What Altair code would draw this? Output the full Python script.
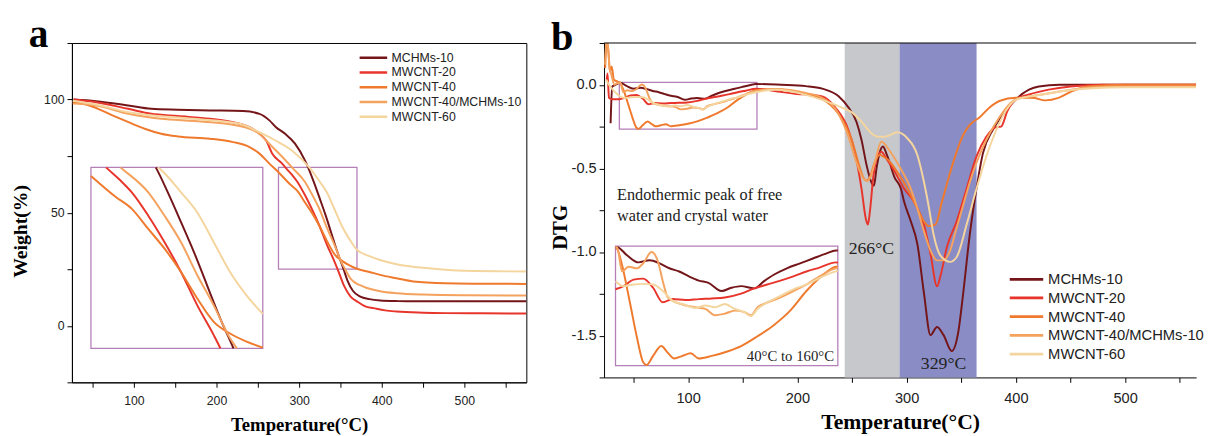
import altair as alt
import pandas as pd

SERIES = ["MCHMs-10", "MWCNT-20", "MWCNT-40", "MWCNT-40/MCHMs-10", "MWCNT-60"]
COLORS = ["#741519", "#E8352B", "#EF7A2E", "#F4A25E", "#F4D59E"]
BOX_COLOR = "#B47FB7"
SERIF = "Liberation Serif"
SANS = "Liberation Sans"

# ---------------- panel a : TGA (Weight %) ----------------
tga_mchms_x = [27, 54, 93, 121, 153, 192, 232, 252, 264, 272, 283, 295, 307, 311.2, 317.5, 324.8, 332, 339.2, 346.5, 353.7, 358.5, 365, 374, 385, 398, 420, 440, 480, 520, 575]
tga_mchms_y = [100, 99.3, 97.4, 95.9, 95.5, 95.2, 94.9, 93.7, 90.8, 87.8, 84.9, 80.5, 73.1, 69.7, 63.8, 56.4, 48.9, 40.7, 32.4, 25.1, 20.0, 15.5, 12.9, 11.8, 11.2, 10.9, 10.8, 10.8, 10.8, 10.8]
tga_m20_x = [27, 54, 93, 121, 153, 192, 220, 240, 252, 260, 267.5, 279.4, 284.1, 291.2, 297.6, 306.7, 315.7, 324.8, 333.8, 342.9, 346.5, 354.6, 362, 370.4, 380, 390.2, 404, 418, 450, 477, 520, 575]
tga_m20_y = [100, 98.8, 95.9, 93.7, 92.7, 91.5, 90, 87.8, 84.9, 81.9, 76.1, 71.7, 69.7, 66.8, 63.8, 58, 51.4, 44, 35.7, 28.3, 25.1, 17.5, 13, 10.7, 8.6, 7.8, 6.8, 6.3, 5.8, 5.6, 5.5, 5.4]
tga_m40_x = [26, 46, 74, 93.5, 113, 133, 153, 192, 220, 240, 252, 264, 275, 288.6, 297.6, 306.7, 315.7, 324.8, 333.8, 342.9, 351.9, 361, 370, 385, 398, 418, 438, 477, 520, 575]
tga_m40_y = [98.8, 97.4, 93, 90, 87.1, 84.9, 83.7, 82.7, 81.2, 79, 76.1, 71.7, 67.9, 62.7, 59.7, 54.7, 49.8, 44, 37.4, 31.6, 28.7, 26.7, 25.2, 23.8, 22.5, 21, 19.6, 18.8, 18.6, 18.5]
tga_m40m_x = [26, 54, 93.5, 133, 172.5, 212, 240, 252, 265, 280, 292.2, 306.7, 315.7, 324.8, 333.8, 342.9, 351.9, 355.5, 362, 378, 398, 418, 450, 500, 575]
tga_m40m_y = [98.2, 97.4, 93.7, 91.5, 90.5, 89.3, 87.1, 84.9, 80, 74.5, 69.7, 63.8, 58, 51.4, 43.2, 35.7, 27.5, 25.1, 21, 17.3, 15.3, 14.4, 13.8, 13.5, 13.4]
tga_m60_x = [26, 54, 93.5, 172.5, 228, 251.7, 271.5, 291.2, 313, 324.8, 333.8, 342.9, 351.9, 361, 370, 385, 398, 418, 457, 500, 575]
tga_m60_y = [99.5, 97.8, 94.4, 91.5, 89.3, 85.6, 81.9, 77.5, 69.7, 63.8, 58.8, 51.4, 44, 38.2, 33.6, 30.8, 29.1, 27.2, 25.4, 24.3, 24]

# magnifier: source window -> inset box (x0, x1, y0, y1)
tga_zoom_src = [275, 370, 25, 70]
tga_zoom_dst = [48, 256, -10, 70]

# ---------------- panel b : DTG ----------------
dtg_mchms_x = [29, 30.5, 33.5, 37.9, 43.5, 50, 56.4, 62, 67.5, 73.1, 78.6, 84.2, 89.7, 97.1, 102.7, 108.2, 115.6, 121.2, 126.7, 134.1, 141.6, 148.9, 156.3, 161.9, 185, 207.7, 222.7, 237.7, 246.8, 254.2, 258.7, 263.5, 267.7, 270.1, 272.3, 275.2, 278.3, 281.3, 284.2, 288.7, 294.8, 297.7, 303.8, 309.8, 315.8, 321.8, 327.8, 333.8, 341.3, 347.3, 351.8, 357.8, 363.9, 369.8, 378.8, 387.8, 400, 412, 421, 440, 480, 520, 565]
dtg_mchms_y = [-0.23, -0.01, 0.0, 0.0127, -0.0063, -0.023, -0.0178, -0.0253, -0.0367, -0.0444, -0.0558, -0.0656, -0.071, -0.09, -0.0824, -0.0786, -0.0839, -0.067, -0.052, -0.0368, -0.0253, -0.0139, -0.0025, 0.005, 0.0, -0.008, -0.023, -0.068, -0.136, -0.224, -0.33, -0.486, -0.583, -0.603, -0.505, -0.408, -0.369, -0.408, -0.46, -0.55, -0.622, -0.70, -0.816, -0.952, -1.244, -1.497, -1.448, -1.497, -1.592, -1.477, -1.244, -0.894, -0.622, -0.41, -0.27, -0.18, -0.087, -0.029, -0.01, 0.0, 0.0, 0.0, 0.0]
dtg_m20_x = [25.5, 26.2, 27.5, 30.5, 37, 41.6, 47.2, 52.7, 58.3, 63.8, 69.4, 76.8, 84.2, 91.6, 99, 108.2, 115.6, 123, 130.5, 137.8, 145.2, 152.6, 161.9, 182, 200, 212, 222.7, 234.7, 246.8, 252.8, 258.7, 262.6, 264.5, 266.5, 269.3, 273.8, 276.8, 281.3, 288.7, 297.7, 306.8, 315.8, 321.8, 327.8, 330.8, 336.8, 345.8, 354.9, 363.9, 372.9, 378, 382, 386.4, 392.3, 400, 412, 430, 450, 480, 565]
dtg_m20_y = [0.03, 0.068, -0.078, -0.087, -0.086, -0.0786, -0.0634, -0.061, -0.0824, -0.1166, -0.109, -0.1113, -0.109, -0.1075, -0.1052, -0.0961, -0.0839, -0.0748, -0.0657, -0.0558, -0.0444, -0.0353, -0.023, -0.04, -0.055, -0.06, -0.07, -0.136, -0.272, -0.408, -0.622, -0.80, -0.836, -0.75, -0.56, -0.418, -0.40, -0.44, -0.515, -0.622, -0.70, -0.836, -1.01, -1.205, -1.147, -0.972, -0.816, -0.622, -0.428, -0.311, -0.27, -0.253, -0.25, -0.155, -0.087, -0.058, -0.029, -0.01, 0.0, 0.0]
dtg_m40_x = [24, 25.5, 27, 28.4, 30, 32, 35, 37.9, 40.7, 45.3, 49, 52.7, 54.6, 58.3, 62.9, 66.6, 70.3, 74.9, 79.6, 84.2, 91.6, 100.8, 108.2, 117.5, 126.7, 136, 145.2, 152.6, 161.9, 180, 200, 222.7, 237.7, 249.8, 255.8, 260.3, 263.3, 266.2, 270.7, 275.2, 278.3, 282.7, 291.8, 300.8, 309.8, 315.8, 320.3, 326.3, 332.3, 339.8, 345.8, 351, 357.8, 366.9, 375.9, 384.9, 400, 415, 427, 439, 451, 466, 500, 565]
dtg_m40_y = [0.1, 0.27, 0.2, 0.078, 0.11, 0.03, 0.02, 0.009, -0.029, -0.12, -0.196, -0.257, -0.2635, -0.242, -0.219, -0.2345, -0.248, -0.242, -0.236, -0.248, -0.242, -0.231, -0.219, -0.196, -0.17, -0.136, -0.09, -0.0596, -0.033, -0.025, -0.045, -0.085, -0.175, -0.33, -0.466, -0.554, -0.573, -0.554, -0.466, -0.418, -0.428, -0.447, -0.525, -0.622, -0.739, -0.816, -0.845, -0.836, -0.70, -0.525, -0.40, -0.31, -0.24, -0.194, -0.136, -0.097, -0.078, -0.078, -0.093, -0.078, -0.039, -0.01, 0.0, 0.0]
dtg_m40m_x = [24, 25, 27, 28.1, 29.8, 32.5, 35, 37.9, 40.7, 44.4, 49, 52.7, 57.4, 61.1, 63.8, 66.6, 71.3, 76.8, 82.3, 87.9, 93.4, 99, 104.5, 110.1, 113.7, 117.5, 123, 130.5, 137.8, 145.2, 152.6, 161.9, 180, 207.7, 222.7, 237.7, 246.8, 254.2, 260.5, 264, 267, 270.8, 276.8, 285.8, 294.8, 303.8, 309.8, 315.8, 321.8, 327.8, 333.8, 339.8, 345.8, 351.8, 357.8, 363.9, 372.9, 384.9, 393.9, 400, 424, 445, 470, 500, 565]
dtg_m40m_y = [0.12, 0.27, 0.2, 0.097, 0.058, 0.0, 0.01, 0.0127, -0.044, -0.033, -0.037, -0.025, 0.0013, -0.0215, -0.067, -0.105, -0.1166, -0.124, -0.128, -0.132, -0.147, -0.143, -0.136, -0.1395, -0.147, -0.128, -0.117, -0.105, -0.09, -0.075, -0.0558, -0.037, -0.025, -0.049, -0.078, -0.175, -0.311, -0.466, -0.56, -0.575, -0.55, -0.466, -0.34, -0.408, -0.505, -0.622, -0.739, -0.875, -0.991, -1.05, -1.05, -0.991, -0.855, -0.719, -0.583, -0.466, -0.33, -0.194, -0.117, -0.087, -0.058, -0.035, -0.015, -0.01, -0.01]
dtg_m60_x = [25, 27.5, 32.5, 37, 41.6, 47.2, 52.7, 58.3, 63.8, 69.4, 74.9, 82.3, 87.9, 93.4, 99, 104.5, 110.1, 113.7, 117.5, 123, 130.5, 137.8, 145.2, 152.6, 161.9, 180, 207.7, 222.7, 240.7, 249.8, 258.7, 267.7, 273.8, 279.7, 291.7, 300.8, 309.8, 315.8, 320, 324.8, 330.8, 339.8, 345.8, 354.9, 363.9, 372.9, 381.9, 390.8, 400, 424, 445, 470, 500, 565]
dtg_m60_y = [0.03, 0.0, -0.039, -0.067, -0.0786, -0.075, -0.0733, -0.075, -0.09, -0.113, -0.1205, -0.1296, -0.124, -0.128, -0.1205, -0.132, -0.1395, -0.149, -0.132, -0.117, -0.1015, -0.086, -0.075, -0.0596, -0.044, -0.03, -0.06, -0.09, -0.136, -0.165, -0.22, -0.29, -0.311, -0.311, -0.284, -0.321, -0.42, -0.58, -0.72, -0.9, -1.02, -1.059, -1.03, -0.836, -0.622, -0.428, -0.272, -0.155, -0.09, -0.058, -0.035, -0.02, -0.015, -0.015]

dtg_zoom_src = [37, 163, -0.265, 0.015]
dtg_zoom_dst = [33.5, 237, -1.68, -0.965]

band_x0 = [243.3, 293.5]
band_x1 = [293.5, 364.0]
band_fill = ["#C6C8CC", "#8A8DC5"]

ann_left_text = ["Endothermic peak of free", "water and crystal water"]
ann_left_x = [34.9, 34.9]
ann_left_y = [-0.661, -0.787]
ann_peak_text = ["266°C", "329°C"]
ann_peak_x = [267.7, 333.8]
ann_peak_y = [-0.985, -1.672]
ann_range_text = ["40°C to 160°C"]
ann_range_x = [233.5]
ann_range_y = [-1.625]


# ---------------- helpers ----------------
def clip_segment(p0, p1, box):
    x0, y0 = p0
    x1, y1 = p1
    xmin, xmax, ymin, ymax = box
    dx, dy = x1 - x0, y1 - y0
    t0, t1 = 0.0, 1.0
    for p, q in ((-dx, x0 - xmin), (dx, xmax - x0), (-dy, y0 - ymin), (dy, ymax - y0)):
        if p == 0:
            if q < 0:
                return None
        else:
            t = q / p
            if p < 0:
                if t > t1:
                    return None
                t0 = max(t0, t)
            else:
                if t < t0:
                    return None
                t1 = min(t1, t)
    return (x0 + t0 * dx, y0 + t0 * dy), (x0 + t1 * dx, y0 + t1 * dy), t1 < 1.0


def magnify(name, xs, ys, src, dst):
    pieces, cur = [], []
    for i in range(len(xs) - 1):
        r = clip_segment((xs[i], ys[i]), (xs[i + 1], ys[i + 1]), src)
        if r is None:
            if cur:
                pieces.append(cur)
                cur = []
            continue
        a, b, cut = r
        if not cur:
            cur.append(a)
        cur.append(b)
        if cut:
            pieces.append(cur)
            cur = []
    if cur:
        pieces.append(cur)
    rows = []
    sx0, sx1, sy0, sy1 = src
    dx0, dx1, dy0, dy1 = dst
    for k, pc in enumerate(pieces):
        for j, (x, y) in enumerate(pc):
            rows.append({
                "series": name, "piece": f"{name}#{k}", "idx": j,
                "x": dx0 + (x - sx0) / (sx1 - sx0) * (dx1 - dx0),
                "y": dy0 + (y - sy0) / (sy1 - sy0) * (dy1 - dy0),
            })
    return rows


def frame(names, xs_list, ys_list):
    rows = []
    for n, xs, ys in zip(names, xs_list, ys_list):
        for j, (x, y) in enumerate(zip(xs, ys)):
            rows.append({"series": n, "idx": j, "x": x, "y": y})
    return pd.DataFrame(rows)


def common_axis(label_size, title_size, title_pad, label_pad=3):
    return dict(grid=False, domainColor="black", domainWidth=1, tickColor="black",
                tickWidth=1, tickSize=5, labelFont=SANS, labelFontSize=label_size,
                labelColor="#222222", labelPadding=label_pad, titleFont=SERIF,
                titleFontWeight="bold", titleFontSize=title_size, titleColor="black",
                titlePadding=title_pad, labelFlush=False, labelOverlap=False)


color_scale = alt.Scale(domain=SERIES, range=COLORS)

# ---------------- panel a ----------------
tga_x = [tga_mchms_x, tga_m20_x, tga_m40_x, tga_m40m_x, tga_m60_x]
tga_y = [tga_mchms_y, tga_m20_y, tga_m40_y, tga_m40m_y, tga_m60_y]
tga_df = frame(SERIES, tga_x, tga_y)
tga_inset = []
for n, xs, ys in zip(SERIES, tga_x, tga_y):
    tga_inset += magnify(n, xs, ys, tga_zoom_src, tga_zoom_dst)
tga_inset_df = pd.DataFrame(tga_inset)
tga_box_df = pd.DataFrame({
    "x0": [tga_zoom_src[0], tga_zoom_dst[0]], "x1": [tga_zoom_src[1], tga_zoom_dst[1]],
    "y0": [tga_zoom_src[2], tga_zoom_dst[2]], "y1": [tga_zoom_src[3], tga_zoom_dst[3]],
})

xa_scale = alt.Scale(domain=[25, 575], nice=False, zero=False)
ya_scale = alt.Scale(domain=[-25, 125], nice=False, zero=False)
xa_axis = alt.Axis(title="Temperature(°C)", values=list(range(50, 551, 50)),
                   labelExpr="datum.value % 100 == 0 ? datum.label : ''",
                   **common_axis(12.5, 19, 8, 8))
ya_axis = alt.Axis(title="Weight(%)", values=[-25, 0, 25, 50, 75, 100, 125],
                   labelExpr="datum.value % 50 == 0 ? datum.label : ''",
                   titleY=191, **common_axis(12.5, 20, 13))


def XA(f):
    return alt.X(f, type="quantitative", scale=xa_scale, axis=xa_axis)


def YA(f):
    return alt.Y(f, type="quantitative", scale=ya_scale, axis=ya_axis)


legend_a = alt.Legend(orient="none", legendX=291, legendY=7.6, title=None,
                      symbolType="stroke", symbolSize=784, symbolStrokeWidth=2.5,
                      labelFont=SANS, labelFontSize=12.5, labelColor="#222222",
                      labelOffset=3, clipHeight=14.8, rowPadding=0, padding=0,
                      labelLimit=300)

a_boxes = alt.Chart(tga_box_df).mark_rect(fillOpacity=0, stroke=BOX_COLOR, strokeWidth=1.3).encode(
    x=XA("x0"), x2="x1", y=YA("y0"), y2="y1")
a_lines = alt.Chart(tga_df).mark_line(strokeWidth=2, interpolate="monotone", clip=True).encode(
    x=XA("x"), y=YA("y"),
    color=alt.Color("series:N", scale=color_scale, legend=legend_a),
    order="idx:Q")
a_inset = alt.Chart(tga_inset_df).mark_line(strokeWidth=2, interpolate="monotone").encode(
    x=XA("x"), y=YA("y"),
    color=alt.Color("series:N", scale=color_scale, legend=legend_a),
    detail="piece:N", order="idx:Q")
a_letter = alt.Chart(pd.DataFrame({"t": ["a"]})).mark_text(
    align="left", baseline="alphabetic", font=SERIF, fontWeight="bold", fontSize=40,
    color="black").encode(text="t:N", x=alt.value(-44), y=alt.value(4))

panel_a = alt.layer(a_boxes, a_lines, a_inset, a_letter).properties(
    width=462, height=345, view=alt.ViewBackground(stroke="black", strokeWidth=1))

# ---------------- panel b ----------------
dtg_x = [dtg_mchms_x, dtg_m20_x, dtg_m40_x, dtg_m40m_x, dtg_m60_x]
dtg_y = [dtg_mchms_y, dtg_m20_y, dtg_m40_y, dtg_m40m_y, dtg_m60_y]
dtg_df = frame(SERIES, dtg_x, dtg_y)
dtg_inset = []
for n, xs, ys in zip(SERIES, dtg_x, dtg_y):
    dtg_inset += magnify(n, xs, ys, dtg_zoom_src, dtg_zoom_dst)
dtg_inset_df = pd.DataFrame(dtg_inset)
dtg_box_df = pd.DataFrame({
    "x0": [dtg_zoom_src[0], dtg_zoom_dst[0]], "x1": [dtg_zoom_src[1], dtg_zoom_dst[1]],
    "y0": [dtg_zoom_src[2], dtg_zoom_dst[2]], "y1": [dtg_zoom_src[3], dtg_zoom_dst[3]],
})
band_df = pd.DataFrame({"x0": band_x0, "x1": band_x1, "c": band_fill})

xb_scale = alt.Scale(domain=[23, 565], nice=False, zero=False)
yb_scale = alt.Scale(domain=[-1.75, 0.25], nice=False, zero=False)
xb_axis = alt.Axis(title="Temperature(°C)", values=list(range(50, 551, 50)),
                   labelExpr="datum.value % 100 == 0 ? datum.label : ''",
                   **common_axis(14.8, 22, 6, 9))
yb_axis = alt.Axis(title="DTG", values=[0.25, 0, -0.25, -0.5, -0.75, -1, -1.25, -1.5, -1.75],
                   labelExpr="datum.value % 0.5 == 0 ? replace(format(datum.value, '.1f'), '\u2212', '-') : ''",
                   titleY=187, **common_axis(14.8, 21, 1))


def XB(f):
    return alt.X(f, type="quantitative", scale=xb_scale, axis=xb_axis)


def YB(f):
    return alt.Y(f, type="quantitative", scale=yb_scale, axis=yb_axis)


legend_b = alt.Legend(orient="none", legendX=411, legendY=231, title=None,
                      symbolType="stroke", symbolSize=1156, symbolStrokeWidth=2.8,
                      labelFont=SANS, labelFontSize=15, labelColor="#222222",
                      labelOffset=3.5, clipHeight=18.4, rowPadding=0, padding=0,
                      labelLimit=300)

b_bands = alt.Chart(band_df).mark_rect().encode(
    x=XB("x0"), x2="x1", fill=alt.Fill("c:N", scale=None))
b_boxes = alt.Chart(dtg_box_df).mark_rect(fillOpacity=0, stroke=BOX_COLOR, strokeWidth=1.3).encode(
    x=XB("x0"), x2="x1", y=YB("y0"), y2="y1")
b_lines = alt.Chart(dtg_df).mark_line(strokeWidth=2, interpolate="monotone", clip=True).encode(
    x=XB("x"), y=YB("y"),
    color=alt.Color("series:N", scale=color_scale, legend=legend_b),
    order="idx:Q")
b_inset = alt.Chart(dtg_inset_df).mark_line(strokeWidth=2, interpolate="monotone").encode(
    x=XB("x"), y=YB("y"),
    color=alt.Color("series:N", scale=color_scale, legend=legend_b),
    detail="piece:N", order="idx:Q")
b_ann_left = alt.Chart(pd.DataFrame({"t": ann_left_text, "x": ann_left_x, "y": ann_left_y})).mark_text(
    align="left", baseline="middle", font=SERIF, fontSize=16.5, color="#222222").encode(
    x=XB("x"), y=YB("y"), text="t:N")
b_ann_peak = alt.Chart(pd.DataFrame({"t": ann_peak_text, "x": ann_peak_x, "y": ann_peak_y})).mark_text(
    align="center", baseline="middle", font=SERIF, fontSize=18, color="#222222").encode(
    x=XB("x"), y=YB("y"), text="t:N")
b_ann_range = alt.Chart(pd.DataFrame({"t": ann_range_text, "x": ann_range_x, "y": ann_range_y})).mark_text(
    align="right", baseline="middle", font=SERIF, fontSize=15, color="#222222").encode(
    x=XB("x"), y=YB("y"), text="t:N")
b_top = alt.Chart(pd.DataFrame({"y": [yb_scale.domain[1]]})).mark_rule(color="black", strokeWidth=1).encode(
    y=YB("y"))
b_letter = alt.Chart(pd.DataFrame({"t": ["b"]})).mark_text(
    align="left", baseline="alphabetic", font=SERIF, fontWeight="bold", fontSize=41,
    color="black").encode(text="t:N", x=alt.value(-54), y=alt.value(7))

panel_b = alt.layer(b_bands, b_boxes, b_lines, b_inset, b_ann_left, b_ann_peak, b_ann_range,
                    b_top, b_letter).properties(width=602, height=340)

chart = alt.hconcat(panel_a, panel_b, spacing=22).resolve_scale(
    color="independent").properties(
    padding={"top": 3, "left": 2, "right": 0, "bottom": 0}).configure_view(stroke="transparent")

chart.save("out.html", embed_options={"renderer": "svg", "actions": False})
